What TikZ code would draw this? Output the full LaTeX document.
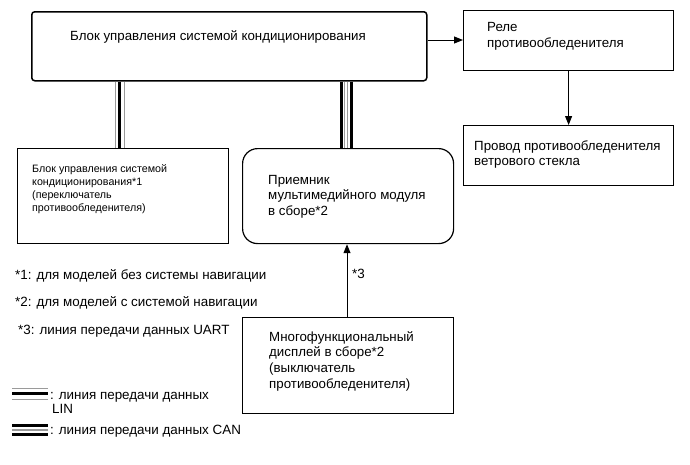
\documentclass[tikz,border=0pt]{standalone}
\usepackage{fontspec}
\setmainfont{Liberation Sans}
\usetikzlibrary{arrows.meta}
\definecolor{lg}{HTML}{9A9A9A}
\tikzset{
  box/.style={draw=black, line width=1.2pt, anchor=north west, inner sep=0pt},
  txt/.style={anchor=base west, inner sep=0pt, align=left},
  big/.style={font=\fontsize{13.3}{15.7}\selectfont},
  small/.style={font=\fontsize{10.7}{13.1}\selectfont},
  note/.style={font=\fontsize{13.4}{15}\selectfont},
  arr/.style={line width=1pt, -{Triangle[length=9pt,width=7pt]}},
  thick line/.style={line width=3.5pt},
  thin gray/.style={line width=1.1pt, draw=lg},
}
\begin{document}
\begin{tikzpicture}[x=1pt,y=-1pt]
\useasboundingbox (0,0) rectangle (690,464);
% boxes
\node[box, line width=1.5pt, rounded corners=3pt, minimum width=395pt, minimum height=69pt] (acu) at (31,11) {};
\node[box, minimum width=210pt, minimum height=60pt] (relay) at (463,10) {};
\node[box, minimum width=210pt, minimum height=60pt] (wire) at (463,125) {};
\node[box, minimum width=211pt, minimum height=95pt] (sw) at (17,148) {};
\node[box, rounded corners=15pt, minimum width=211pt, minimum height=95pt] (rcv) at (242,148) {};
\node[box, minimum width=211pt, minimum height=96pt] (disp) at (242,317) {};
% texts (base = baseline of last line)
\node[txt, big] (tacu) at (70,40.5) {Блок управления системой кондиционирования};
\node[txt, big] (trelay) at (487,47.2) {Реле\\противообледенителя};
\node[txt, big] (twire) at (474,165.7) {Провод противообледенителя\\ветрового стекла};
\node[txt, small] (tsw) at (32,211.8) {Блок управления системой\\кондиционирования*1\\(переключатель\\противообледенителя)};
\node[txt, big] (trcv) at (268,215.4) {Приемник\\мультимедийного модуля\\в сборе*2};
\node[txt, big] (tdisp) at (269,388.1) {Многофункциональный\\дисплей в сборе*2\\(выключатель\\противообледенителя)};
% arrows
\draw[arr] (acu.east |- 0,40) coordinate (a1) -- (relay.west |- a1);
\draw[arr] (relay.south) -- (wire.north);
\coordinate (uart) at (347,0);
\draw[arr] (uart |- disp.north) -- (uart |- rcv.south);
\node[txt, note] (l3) at (352,278) {*3};
% LIN connector
\coordinate (lin1) at (115.5,0);
\coordinate (lin2) at (119.5,0);
\coordinate (lin3) at (124.5,0);
\draw[thin gray] (lin1 |- acu.south) -- (lin1 |- sw.north);
\draw[thick line] (lin2 |- acu.south) -- (lin2 |- sw.north);
\draw[thin gray] (lin3 |- acu.south) -- (lin3 |- sw.north);
% CAN connector
\coordinate (can1) at (341.3,0);
\coordinate (can2) at (344.9,0);
\coordinate (can3) at (347.8,0);
\coordinate (can4) at (351.3,0);
\draw[thick line] (can1 |- acu.south) -- (can1 |- rcv.north);
\draw[thin gray] (can2 |- acu.south) -- (can2 |- rcv.north);
\draw[thin gray] (can3 |- acu.south) -- (can3 |- rcv.north);
\draw[thick line] (can4 |- acu.south) -- (can4 |- rcv.north);
% footnotes
\node[txt, note] (n1) at (15,279) {*1: для моделей без системы навигации};
\node[txt, note] (n2) at (15,306) {*2: для моделей с системой навигации};
\node[txt, note] (n3) at (18,334) {*3: линия передачи данных UART};
% legend
\draw[thin gray] (12,388.3) -- (48,388.3);
\draw[line width=2.7pt] (12,393.7) -- (48,393.7);
\draw[thin gray] (12,399.4) -- (48,399.4);
\node[txt, note] (lin) at (50,399) {: линия передачи данных};
\node[txt, note] (lin2t) at (52,413.5) {LIN};
\draw[line width=2.5pt] (12,425.5) -- (48,425.5);
\draw[thin gray] (12,430) -- (48,430);
\draw[line width=2.7pt] (12,434.7) -- (48,434.7);
\node[txt, note] (can) at (50,434) {: линия передачи данных CAN};
\end{tikzpicture}
\end{document}
